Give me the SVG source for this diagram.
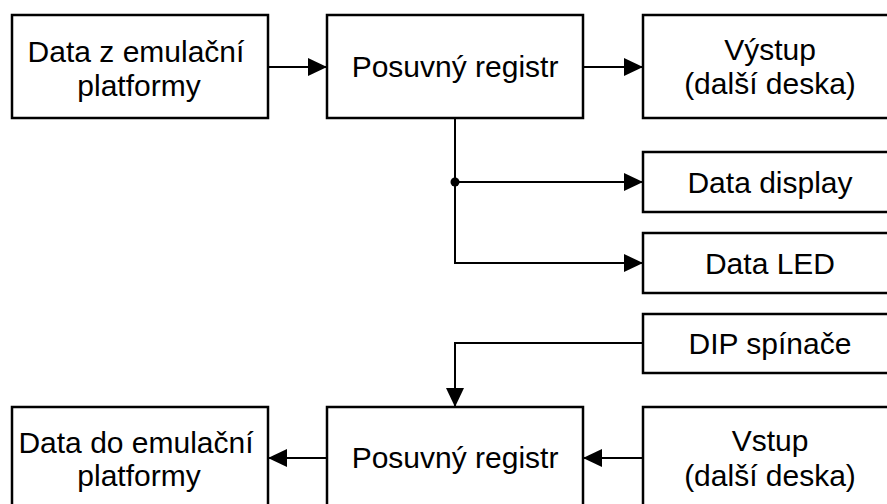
<svg xmlns="http://www.w3.org/2000/svg" width="887" height="504" viewBox="0 0 887 504">
<defs>
<style>
.box{fill:#fff;stroke:#000;stroke-width:2.5}
.t{font-family:"Liberation Sans",Arial,sans-serif;font-size:30px;fill:#000;text-anchor:middle}
.c{fill:none;stroke:#000;stroke-width:2}
</style>
<marker id="ah" viewBox="0 0 19 18" refX="19" refY="9" markerWidth="19" markerHeight="18" markerUnits="userSpaceOnUse" orient="auto">
<path d="M0,0 L19,9 L0,18 Z" fill="#000"/>
</marker>
</defs>
<rect width="887" height="504" fill="#fff"/>
<g id="n-data-z">
<rect class="box" x="12" y="15" width="256" height="103"/>
<text class="t" x="136" y="62">Data z emulační</text>
<text class="t" x="139" y="96">platformy</text>
</g>
<g id="n-reg-top">
<rect class="box" x="327" y="15" width="256" height="103"/>
<text class="t" x="455" y="77">Posuvný registr</text>
</g>
<g id="n-vystup">
<rect class="box" x="643" y="15" width="256" height="103"/>
<text class="t" x="770" y="60">Výstup</text>
<text class="t" x="770" y="94">(další deska)</text>
</g>
<g id="n-display">
<rect class="box" x="643" y="152" width="256" height="60"/>
<text class="t" x="770" y="193">Data display</text>
</g>
<g id="n-led">
<rect class="box" x="643" y="233" width="256" height="60"/>
<text class="t" x="770" y="274">Data LED</text>
</g>
<g id="n-dip">
<rect class="box" x="643" y="314" width="256" height="59"/>
<text class="t" x="770" y="354">DIP spínače</text>
</g>
<g id="n-data-do">
<rect class="box" x="12" y="407" width="256" height="110"/>
<text class="t" x="136" y="453">Data do emulační</text>
<text class="t" x="139" y="486">platformy</text>
</g>
<g id="n-reg-bottom">
<rect class="box" x="327" y="407" width="256" height="110"/>
<text class="t" x="455" y="468">Posuvný registr</text>
</g>
<g id="n-vstup">
<rect class="box" x="643" y="407" width="256" height="110"/>
<text class="t" x="770" y="451">Vstup</text>
<text class="t" x="770" y="486">(další deska)</text>
</g>
<g id="connectors">
<path class="c" d="M268,67 H327" marker-end="url(#ah)"/>
<path class="c" d="M583,67 H643" marker-end="url(#ah)"/>
<path class="c" d="M455,118 V182 H643" marker-end="url(#ah)"/>
<path class="c" d="M455,182 V263 H643" marker-end="url(#ah)"/>
<circle cx="455" cy="182" r="4.5" fill="#000"/>
<path class="c" d="M643,343 H455 V407" marker-end="url(#ah)"/>
<path class="c" d="M643,458 H583" marker-end="url(#ah)"/>
<path class="c" d="M327,458 H268" marker-end="url(#ah)"/>
</g>
</svg>
